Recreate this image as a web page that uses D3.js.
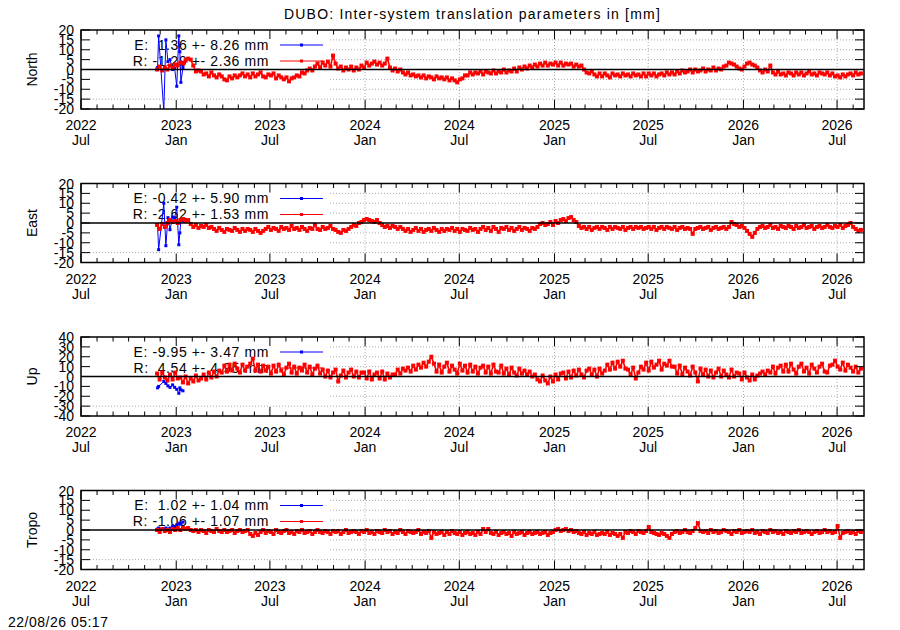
<!DOCTYPE html>
<html>
<head>
<meta charset="utf-8">
<script src="https://cdn.jsdelivr.net/npm/d3@7"></script>
<style>
  body { margin:0; background:#fff; }
  svg text { font-family: "Liberation Sans", Arial, Helvetica, sans-serif; fill:#000; }
</style>
</head>
<body>
<svg id="chart" width="900" height="630"></svg>
<script>
// time axis ends and tick spacing
var X_START = new Date(2022, 6, 1), X_END = new Date(2026, 7, 22);
var RED_START = new Date(2022, 10, 25), RED_END = new Date(2026, 7, 16);

// daily-ish residuals (R), evenly spaced between RED_START and RED_END
var northR = [
  0, 1.5, -0.5, 1, 0, 2,
  1, 2.5, 2, 3.5, 3, 4.5, 5.5, 5,
  2, -1, -0.5,
  -1, -2.5, -2, -3.5, -1.5, -3, -4, -2.5,
  -3.5, -5, -5.5, -3.5, -4.5, -3, -4, -3,
  -2, -3.5, -2.5, -4, -2, -3.5, -2.5, -1.5, -3.5, -4, -2.5, -3, -2, -4.5, -3, -4,
  -5, -4, -6, -4.5,
  -4, -3, -3.5, -1.5, -2, -0.5, 0.5, -0.5,
  1.5, 3, 1, 3.5, 2, 4, 1.5, 7, 3, 0.5,
  1.5, -0.5, 1, 0, 1.5, -0.5, 1, 0, 2, 1,
  3.5, 2, 3, 4, 2.5, 3.5, 2, 3, 5.5,
  1, -0.5, 0.5, -1, 0,
  -1.5, -2.5, -1.5, -3, -2.5, -3.5, -3, -4, -3, -4.5, -3.5, -4, -5, -3.5, -4.5, -4, -5, -4, -5.5, -4.5, -5.5, -6.5, -5,
  -4.5, -3, -3, -1.5, -2.5, -1.5,
  -2, -1, -2.5, -1, -1.5, -2, -0.5, -2, -1, -1.5, 0, -1.5, -0.5, -1,
  0.5, -1, 1, 0, 1.5, 0.5, 2, 1, 2.5, 1.5, 3, 2, 3.5, 2, 3, 2.5, 3.5, 2,
  3.5, 2, 3, 2.5, 3, 1.5, 2.5, 1.5, 2,
  0, -1.5, -2, -1,
  -2.5, -3.5, -2, -3.5, -2, -3, -4, -2, -3, -2.5, -3.5, -2, -3, -2.5, -3.5, -2, -3, -2.5, -3.5,
  -2, -3.5, -2, -3, -2, -3.5, -2.5, -2, -3, -1.5, -2.5,
  -1.5, -2.5, -1, -2, -0.5, -1.5, -1, 0, -1.5, 0, -1, -0.5,
  0.5, -1, 0, -0.5, 1, -0.5, 0.5, 0,
  1.5, 2, 3.5, 3, 2.5, 1.5,
  0.5, 0,
  1.5, 3, 3.5, 2.5, 2,
  1, -0.5, -1.5, 0, -1, 2,
  -1.5, -2.5, -1, -2.5, -2, -3, -1.5, -2, -3, -1.5, -2.5, -1.5, -3, -2, -1, -2.5, -2, -3, -1.5, -2, -2.5, -1.5,
  -3, -2, -3.5, -3, -4, -2.5, -3.5, -2.5,
  -2, -3, -1.5, -2.5, -2
];
var eastR = [
  -1, -3, -0.5, -2,
  0, 1.5, 0.5, 1, 0, 1.5,
  2, 1, 1.5,
  -0.5, -2, -1, -2.5, -1.5, -2, -1, -2.5, -2,
  -3, -4, -2.5, -3.5, -4.5, -3, -3.5, -4, -2.5, -3.5, -4.5, -3, -4, -3, -3.5, -4.5, -3, -4,
  -5, -4,
  -3, -2, -3.5, -2.5, -3, -4, -2, -3, -2.5, -3.5, -1.5, -3, -2.5, -3.5, -2, -3, -4, -2.5, -3, -1, -3, -3.5, -2, -3, -2.5, -1.5, -3,
  -3.5, -4.5, -5, -3.5, -4, -3,
  -2, -1, -1.5, 0, 0.5, 1.5, 2, 1.5,
  1, 0.5, 1.5, 0,
  -1, -2, -1.5, -2.5, -1.5, -2, -3, -2,
  -3, -4, -3, -4.5, -3.5, -2.5, -4, -3, -4.5, -3.5, -3, -4, -2.5, -3.5, -4.5, -3, -4, -3, -3.5, -2.5, -4, -3, -4.5, -3, -3.5, -4, -2.5, -3.5, -3, -4.5, -3,
  -2, -3.5, -2.5, -4, -2, -3, -4.5, -2.5, -3, -2, -3.5, -2.5, -4, -3, -2, -3.5, -2.5, -3, -4, -2.5, -3, -2,
  -0.5, 0, -1, -0.5, 0.5, -1,
  1, 0, 1.5, 2, 1, 2.5, 3, 1.5, 0.5,
  -1.5, -2.5, -2, -3, -2, -3.5, -2.5, -2, -3, -2, -2.5, -3.5, -2, -3, -2, -2.5, -3, -2, -3.5, -2.5, -2, -3, -2, -2.5,
  -2, -3, -2.5, -2, -3, -2, -3.5, -2.5, -2, -3, -2, -2.5, -3, -2, -3.5, -2.5, -2, -3, -2.5, -3, -5.5, -3, -2.5, -2, -3, -2.5, -2, -3.5, -2.5, -2, -3, -2.5, -2, -3, -2,
  0.5, -0.5,
  -1, -2, -1.5, -2.5,
  -4, -5.5, -7, -5, -3,
  -2, -1.5, -2.5, -2, -1, -2.5, -2, -3, -1.5, -2, -2.5, -1.5, -2, -3, -1.5, -2.5, -2, -1, -2.5, -2, -1.5, -3, -2, -1.5, -2.5, -2, -1, -2, -2.5, -1.5, -2, -1, -2.5, -1.5, -1, 0,
  -2, -3, -4, -3.5
];
var upR = [
  3, -3, 4, -1, -4, 2, -3, 4, -2,
  -1, -6, 0, -7, -2, -5, 1, -4,
  -2, 2, -3, 4, -1, 5, 0, 6,
  4, 11, 5, 12, 6, 13, 8, 4, 12, 6, 10, 13, 18, 6, 12, 5, 11, 6,
  10, 3, 11, 5, 12, 6, 2, 9, 13, 4, 10, 3, 9, 6, 12, 4, 10, 2, 8, 11, 3,
  7, 0, 6, -1, 4, 7, -5, 1, 6, -1, 4, 7, 0, 5, -1, 4,
  4, -2, 5, -3, 2, 4, -2, 5, -3, 3, -1, 2,
  2, 7, 3, 8, 6, 9, 5, 11, 7, 12, 9, 14, 10, 15, 20,
  13, 5, 12, 4, 10, 14, 5, 11, 7, 3, 13, 6, 11, 4, 12, 5, 10, 3, 9,
  11, 4, 10, 3, 12, 5, 4, 11, 3, 8, 2, 9, 4, 1, 8, 3, 6, 2, 5, 0,
  2, -3, -5, 1, -4, -7, 0, -5, 2, -3, 3,
  4, -2, 5, -1, 6, 1, 7, 2, -1, 6, 8, 2, 7, 0, 8, 3,
  6, 12, 7, 14, 8, 15, 10, 16, 8,
  7, 2, 9, -2, 4, 10,
  7, 14, 6, 15, 9, 12, 16, 7, 13, 11, 16, 10,
  10, 3, 11, 2, 9, 5, 1, 10, 4, -5, 8, 2,
  7, 0, 6, -1, 4, 8, 0, 6, 2, -1, 7, 0, 4,
  3, -3, 4, -1, -4, 2, -3, 1, 3,
  5, 2, 6, 4, 10, 3, 9, 11, 5,
  12, 5, 13, 7, 3, 10, 13, 5, 9, 3, 12, 8, 4, 10, 13, 5, 4, 11,
  12, 16, 10, 7, 14, 6, 12, 9,
  5, 10, 4, 8
];
var tropoR = [
  0, -1, 0.5, -0.5, 0, -1, 0.5, 0, 1, 0, 1, 0.5, 1, 0,
  -0.5, 0, -1, 0, -0.5, -1.5, 0, -0.5, -1, 0.5, -0.5, -1, 0, -1, -0.5, 0, -1.5, -0.5, 0, -1, -0.5, 0,
  -2, -3, -1.5, -2.5,
  -1, 0, -1.5, -0.5, -1, -2, 0, -1, -1.5, -0.5, 0, -1.5, -1, -2, -0.5, -1, 0, -1.5, -1, -0.5, -2, -1, 0, -1, -1.5, -0.5, -1, -2, -0.5,
  -1, -0.5, -2, -1, 0, -1.5, -1, -0.5, -1, -2, -0.5, -1, 0, -1.5, -1, -2, -0.5, -1, -1.5, 0, -1, -0.5, -2, -1, -1.5, 0, -1, -2, -0.5, -1, -1.5, -1, 0, -2, -1, -1.5, -0.5, -4,
  -1, -2, -1.5, -1, -2.5, -1, -2, -0.5, -1.5, -2, -1, -2.5, -1.5, -1, -2, -1.5, -2.5, -1, -2,
  0.5, -1, 0.5, -1.5, -2, -1, -2.5, -1.5, -1, -2, -1.5, -3, -1, -2, -1.5, -1, -2.5, -1.5, -1, -2, -1.5, -1, -2, -1.5, -1, -2.5, -1.5, -1,
  0, 0.5, -0.5, 0, 0.5, -0.5, 0, -1, -0.5,
  -1.5, -2, -1, -2.5, -1.5, -2, -1, -2.5, -2, -1.5, -2, -1, -2.5, -1.5, -2, -3, -2,
  -4,
  -1, -1.5, -0.5, -1, -2, -0.5, -1, -1.5, -0.5, 1.5, -1,
  -1.5, -2, -2.5, -1.5, -2, -3, -4, -2,
  -1, -0.5, -1.5, -1, 0, -1, -1.5, -0.5, 1, 3.5, -0.5,
  -1, -0.5, -1.5, 0, -1, -0.5, -1.5, -1, 0, -0.5, -1, -2, -0.5, -1, 0, -1.5, -1, -0.5, -1, 0, -1.5, -1, -2, -0.5, -1, -1.5, 0, -1, -0.5, -1.5, -1, -2, -0.5, -1, -1.5, -0.5, -1, 0, -1.5, -1, -0.5, -1, -2, -1, -0.5, -1.5, -1, 0, -1, -0.5, -1.5, -1, 2, -4,
  -1.5, -1, -0.5, -1.5, -1, -2, -0.5, -1
];

// early solutions (E), sparse
var blueDates = ["2022-11-26","2022-11-28","2022-12-08","2022-12-12","2022-12-16","2022-12-20",
  "2022-12-25","2022-12-29","2023-01-02","2023-01-06","2023-01-08","2023-01-10","2023-01-14"];
var northE = [1, 17, -21, 15, 4, 5, 0, 0.5, -8.5, 17, 9, -6.5, 1];
var eastE  = [-1, -13.5, 10, -11.5, 2.7, -3.4, 3, 2.7, 8, -11, -5, 1.5, 1];
var upE    = [-11.5, -10, -5, -7, -9.5, -11, -8.5, -11, -13, -17, -11.5, -13.5, -14.5];
var tropoE = [0.5, 1, 0.5, 1, 0.5, 1, 2, 1.5, 2.6, 3, 3.5, 3, 4];

var panelNames = ["North", "East", "Up", "Tropo"];
var panelRange = [20, 20, 40, 20];
var panelStep  = [5, 5, 10, 5];
var legendE = ["E:  1.36 +- 8.26 mm", "E: -0.42 +- 5.90 mm", "E: -9.95 +- 3.47 mm", "E:  1.02 +- 1.04 mm"];
var legendR = ["R: -1.29 +- 2.36 mm", "R: -2.62 +- 1.53 mm", "R:  4.54 +- 4.95 mm", "R: -1.06 +- 1.07 mm"];
var redSeries = [northR, eastR, upR, tropoR];
var blueSeries = [northE, eastE, upE, tropoE];

var svg = d3.select("#chart");
var L = 81, R = 864, PH = 79, FS = 14, MS = 4;
var x = d3.scaleTime().domain([X_START, X_END]).range([L, R]);
var parse = d3.timeParse("%Y-%m-%d");
var majors = d3.timeMonth.every(6).range(X_START, d3.timeDay.offset(X_END, 1));
var minors = d3.timeMonth.every(1).range(X_START, d3.timeDay.offset(X_END, 1));
var fmtY = d3.timeFormat("%Y"), fmtM = d3.timeFormat("%b");

svg.append("text").attr("x", (L + R) / 2).attr("y", 19).attr("text-anchor", "middle")
  .style("font-size", FS + "px").style("letter-spacing", "1.2px")
  .text("DUBO: Inter-system translation parameters in [mm]");

function redDates(n){
  var t0 = RED_START.getTime(), dt = (RED_END.getTime() - t0) / (n - 1), out = [];
  for (var i = 0; i < n; i++) out.push(new Date(t0 + i * dt));
  return out;
}

function drawPanel(p){
  var top = 30 + p * 153.5, bot = top + PH;
  var dom = panelRange[p];
  var y = d3.scaleLinear().domain([-dom, dom]).range([bot, top]);
  var g = svg.append("g");
  var yt = d3.range(-dom, dom + 0.1, panelStep[p]);

  // grid
  g.selectAll(".hg").data(yt.filter(function(v){ return v !== 0 && Math.abs(v) !== dom; }))
    .enter().append("line")
    .attr("x1", L).attr("x2", R).attr("y1", function(v){ return y(v); }).attr("y2", function(v){ return y(v); })
    .attr("stroke", "#a8a8a8").attr("stroke-dasharray", "1,2");
  g.selectAll(".vg").data(majors.filter(function(d){ return x(d) > 330; }))
    .enter().append("line")
    .attr("x1", function(d){ return x(d); }).attr("x2", function(d){ return x(d); })
    .attr("y1", top).attr("y2", bot)
    .attr("stroke", "#a8a8a8").attr("stroke-dasharray", "1,2");

  // opaque key box
  g.append("rect").attr("x", L + 1).attr("y", top + 1).attr("width", 330 - L - 1).attr("height", 63).attr("fill", "#fff");

  // key
  var rows = [[legendE[p], "#0000ff"], [legendR[p], "#ff0000"]];
  rows.forEach(function(r, k){
    var yy = top + 15 + k * 16;
    g.append("text").attr("x", 269).attr("y", yy).attr("dy", "0.35em").attr("text-anchor", "end")
      .style("font-size", FS + "px").style("letter-spacing", "0.6px").style("white-space", "pre").text(r[0]);
    g.append("line").attr("x1", 280).attr("x2", 323).attr("y1", yy).attr("y2", yy).attr("stroke", r[1]);
    g.append("rect").attr("x", 300).attr("y", yy - 1.5).attr("width", 3).attr("height", 3).attr("fill", r[1]);
  });

  // data
  var clipId = "clip" + p;
  svg.append("clipPath").attr("id", clipId).append("rect").attr("x", L).attr("y", top).attr("width", R - L).attr("height", PH);
  var dg = g.append("g").attr("clip-path", "url(#" + clipId + ")");
  var line = d3.line().x(function(d){ return x(d[0]); }).y(function(d){ return y(d[1]); });

  var bpts = blueSeries[p].map(function(v, i){ return [parse(blueDates[i]), v]; });
  dg.append("path").datum(bpts).attr("d", line).attr("fill", "none").attr("stroke", "#0000ff").attr("stroke-width", 1);
  dg.selectAll(".bp").data(bpts).enter().append("rect")
    .attr("x", function(d){ return x(d[0]) - 1.5; }).attr("y", function(d){ return y(d[1]) - 1.5; })
    .attr("width", 3).attr("height", 3).attr("fill", "#0000ff");

  var rs = redSeries[p], rd = redDates(rs.length);
  var rpts = rs.map(function(v, i){ return [rd[i], v]; });
  dg.append("path").datum(rpts).attr("d", line).attr("fill", "none").attr("stroke", "#ff0000").attr("stroke-width", 1.6);
  dg.selectAll(".rp").data(rpts).enter().append("rect")
    .attr("x", function(d){ return x(d[0]) - MS / 2; }).attr("y", function(d){ return y(d[1]) - MS / 2; })
    .attr("width", MS).attr("height", MS).attr("fill", "#ff0000");

  // zero line
  g.append("line").attr("x1", L).attr("x2", R).attr("y1", y(0)).attr("y2", y(0)).attr("stroke", "#000").attr("stroke-width", 1.5);

  // ticks
  var tk = g.append("g").attr("stroke", "#000").attr("stroke-width", 1);
  minors.forEach(function(d){
    var big = majors.some(function(m){ return +m === +d; });
    var len = big ? 9 : 4.5, xx = x(d);
    tk.append("line").attr("x1", xx).attr("x2", xx).attr("y1", bot).attr("y2", bot - len);
    tk.append("line").attr("x1", xx).attr("x2", xx).attr("y1", top).attr("y2", top + len);
  });
  yt.forEach(function(v){
    tk.append("line").attr("x1", L).attr("x2", L + 9).attr("y1", y(v)).attr("y2", y(v));
    tk.append("line").attr("x1", R).attr("x2", R - 9).attr("y1", y(v)).attr("y2", y(v));
  });

  // border
  g.append("rect").attr("x", L).attr("y", top).attr("width", R - L).attr("height", PH)
    .attr("fill", "none").attr("stroke", "#000").attr("stroke-width", 1.5);

  // labels
  g.selectAll(".yl").data(yt).enter().append("text")
    .attr("x", 74).attr("y", function(v){ return y(v); }).attr("dy", "0.36em").attr("text-anchor", "end")
    .style("font-size", FS + "px").text(function(v){ return v; });
  majors.forEach(function(d){
    var t = g.append("text").attr("text-anchor", "middle").style("font-size", FS + "px");
    t.append("tspan").attr("x", x(d)).attr("y", bot + 21).text(fmtY(d));
    t.append("tspan").attr("x", x(d)).attr("y", bot + 36).text(fmtM(d));
  });
  g.append("text").attr("transform", "translate(37," + (top + PH / 2) + ") rotate(-90)")
    .attr("text-anchor", "middle").style("font-size", FS + "px").text(panelNames[p]);
}

for (var p = 0; p < 4; p++) drawPanel(p);

svg.append("text").attr("x", 8).attr("y", 627).style("font-size", FS + "px").style("letter-spacing", "0.5px")
  .text("22/08/26 05:17");
</script>
</body>
</html>
